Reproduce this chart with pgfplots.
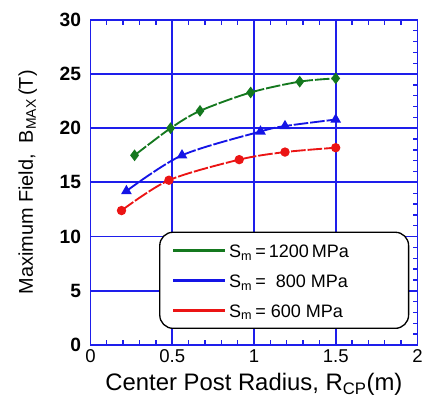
\documentclass[border=0pt]{standalone}
\usepackage{pgfplots}
\pgfplotsset{compat=1.18}
\usepackage{fontspec}
\setmainfont{Liberation Sans}
\definecolor{gridblue}{RGB}{30,30,235}
\definecolor{sgreen}{RGB}{20,120,30}
\definecolor{sblue}{RGB}{20,20,230}
\definecolor{sred}{RGB}{235,20,20}

\begin{document}
\begin{tikzpicture}
\pgfplotsset{
    frame/.style={
        scale only axis,
        width=246.75pt, height=245.25pt,
        xmin=0, xmax=2, ymin=0, ymax=30,
        xtick={0,0.5,...,2}, ytick={0,5,...,30},
        tick align=inside,
        major tick length=0pt, minor tick length=3pt,
        minor tick style={gridblue, line width=1pt},
        axis line style={gridblue, line width=1.4pt},
    },
    curve/.style={line width=1.4pt, smooth, dash pattern=on 11pt off 1.5pt, mark options={solid}},
}
\begin{axis}[
    frame,
    xtick pos=both,
    xticklabels={0,0.5,1,1.5,2},
    extra x ticks={0.1,0.2,0.3,0.4,0.6,0.7,0.8,0.9,1.1,1.2,1.3,1.4,1.6,1.7,1.8,1.9},
    extra x tick labels={},
    extra x tick style={grid=none, major tick length=3.5pt, tick style={gridblue, line width=1pt}},
    /pgf/number format/assume math mode=true,
    grid=major,
    grid style={gridblue, line width=1.4pt},
    x tick label style={font=\fontsize{14}{15}\selectfont, yshift=0pt},
    y tick label style={font=\fontsize{14.5}{15}\selectfont\bfseries, xshift=-3.5pt},
    xlabel={Center Post Radius, R\textsubscript{CP}(m)},
    ylabel={Maximum Field,\ \ B\textsubscript{MAX}\,(T)},
    xlabel style={font=\fontsize{18}{19}\selectfont, yshift=-1pt},
    ylabel style={font=\fontsize{15}{17}\selectfont, at={(rel axis cs:-0.176,0.5)}, anchor=base},
    legend style={
        at={(0.975,0.3486)}, anchor=north east,
        draw=black, line width=1pt, rounded corners=10pt,
        font=\fontsize{13.6}{15}\selectfont,
        inner xsep=9pt, inner ysep=5pt,
        row sep=5pt,
    },
    legend cell align=left,
    legend image code/.code={
        \draw[#1, solid, line width=2.3pt] (0pt,0pt) -- (39pt,0pt);
    },
]
\addplot[sgreen, curve, mark=diamond*, mark size=3.3pt]
    coordinates {(0.27,17.5) (0.49,20.0) (0.67,21.6) (0.98,23.3) (1.28,24.3) (1.50,24.6)};
\addlegendentry{\rule{0pt}{12pt}S\textsubscript{m}\,=\,1200\,MPa\hspace*{34pt}}
\addplot[sblue, curve, mark=triangle*, mark size=3.3pt]
    coordinates {(0.22,14.2) (0.56,17.5) (1.04,19.7) (1.19,20.2) (1.50,20.8)};
\addlegendentry{\rule{0pt}{12pt}S\textsubscript{m}\,=\ \ 800 MPa}
\addplot[sred, curve, mark=*, mark size=2.8pt]
    coordinates {(0.19,12.4) (0.48,15.2) (0.91,17.1) (1.19,17.8) (1.50,18.2)};
\addlegendentry{\rule{0pt}{12pt}S\textsubscript{m}\,=\ 600 MPa}
\coordinate (bbsw) at (rel axis cs:-0.2766,-0.1988);
\coordinate (bbne) at (rel axis cs:1.0213,1.0612);
\end{axis}
% minor ticks on the right spine only
\begin{axis}[
    frame,
    axis y line*=right, axis x line=none,
    minor ytick={1,2,3,4,6,7,8,9,11,12,13,14,16,17,18,19,21,22,23,24,26,27,28,29},
    yticklabels={},
]
\end{axis}
\path (bbsw) rectangle (bbne);
\end{tikzpicture}
\end{document}
